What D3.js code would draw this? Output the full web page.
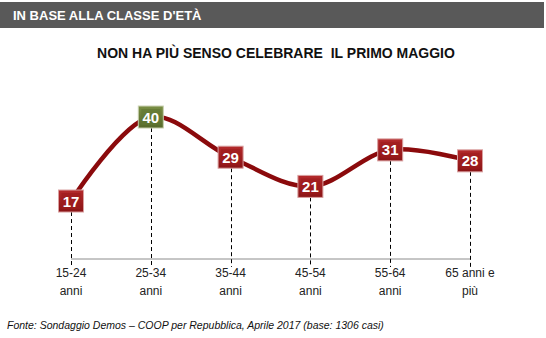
<!DOCTYPE html>
<html><head><meta charset="utf-8">
<script src="https://cdn.jsdelivr.net/npm/d3@7"></script>
<style>
html,body{margin:0;padding:0;background:#fff;}
svg{display:block;font-family:Arial,"Liberation Sans",sans-serif;}
text{white-space:pre;}
</style></head>
<body><svg id="c" width="546" height="338"></svg>
<script>
const categories = ["15-24|anni","25-34|anni","35-44|anni","45-54|anni","55-64|anni","65 anni e|più"];
const values = [17, 40, 29, 21, 31, 28];
const highlight = [false, true, false, false, false, false];
const header = "IN BASE ALLA CLASSE D'ETÀ";
const title = "NON HA PIÙ SENSO CELEBRARE  IL PRIMO MAGGIO";
const source = "Fonte: Sondaggio Demos – COOP per Repubblica, Aprile 2017 (base: 1306 casi)";

const svg = d3.select("#c");
const defs = svg.append("defs");
function grad(id, c1, c2){
  const g = defs.append("linearGradient").attr("id", id).attr("x1",0).attr("y1",0).attr("x2",0).attr("y2",1);
  g.append("stop").attr("offset","0%").attr("stop-color",c1);
  g.append("stop").attr("offset","100%").attr("stop-color",c2);
}
grad("gRed", "#b42a2c", "#8a1416");
grad("gGreen", "#7a8f45", "#56692a");

svg.append("rect").attr("x",0).attr("y",2).attr("width",544).attr("height",26).attr("fill","#595959");
svg.append("text").attr("x",13).attr("y",20).attr("fill","#fff").attr("font-weight","bold")
  .attr("font-size",13).text(header);
svg.append("text").attr("x",276).attr("y",58).attr("text-anchor","middle").attr("font-weight","bold")
  .attr("font-size",14).attr("fill","#111").text(title);

const x = d3.scalePoint().domain(categories).range([71, 470]);
const y = d3.scaleLinear().domain([0, 50]).range([263.1, 80.5]);
const axisY = 259;

// axis line
svg.append("line").attr("x1", x(categories[0])).attr("x2", x(categories[5]))
  .attr("y1", axisY).attr("y2", axisY).attr("stroke","#8c8c8c").attr("stroke-width",1);

// dashed drop lines
svg.selectAll(".drop").data(values).enter().append("line")
  .attr("x1",(d,i)=>Math.round(x(categories[i]))+0.5).attr("x2",(d,i)=>Math.round(x(categories[i]))+0.5)
  .attr("y1",d=>y(d)+11).attr("y2",267)
  .attr("stroke","#000").attr("stroke-width",1).attr("stroke-dasharray","4,3");

// tick labels
const lab = svg.selectAll(".lab").data(categories).enter().append("text")
  .attr("text-anchor","middle").attr("font-size",12).attr("fill","#222");
lab.append("tspan").attr("x",d=>x(d)).attr("y",277).text(d=>d.split("|")[0]);
lab.append("tspan").attr("x",d=>x(d)).attr("y",295).text(d=>d.split("|")[1]);

// line
const line = d3.line().x((d,i)=>x(categories[i])).y(d=>y(d)).curve(d3.curveCatmullRom.alpha(0.5));
svg.append("path").datum(values).attr("d",line).attr("fill","none")
  .attr("stroke","#8b0a0c").attr("stroke-width",4.5).attr("stroke-linecap","round");

// markers
const w = 25, h = 22;
const m = svg.selectAll(".mk").data(values).enter().append("g")
  .attr("transform",(d,i)=>`translate(${x(categories[i])},${y(d)})`);
m.append("rect").attr("x",-w/2).attr("y",-h/2).attr("width",w).attr("height",h)
  .attr("fill",(d,i)=>highlight[i]?"url(#gGreen)":"url(#gRed)")
  .attr("stroke",(d,i)=>highlight[i]?"#c9d0b0":"#d9a0a0").attr("stroke-width",1);
m.append("rect").attr("x",-w/2+3).attr("y",-h/2+3).attr("width",w-6).attr("height",h-6)
  .attr("fill",(d,i)=>highlight[i]?"#5f7632":"#9c1a1c").attr("opacity",0.6);
m.append("text").attr("text-anchor","middle").attr("y",5.5).attr("fill","#fff")
  .attr("font-weight","bold").attr("font-size",15).text(d=>d);

svg.append("text").attr("x",7).attr("y",329).attr("font-style","italic").attr("font-size",10.5)
  .attr("fill","#111").text(source);
</script></body></html>
